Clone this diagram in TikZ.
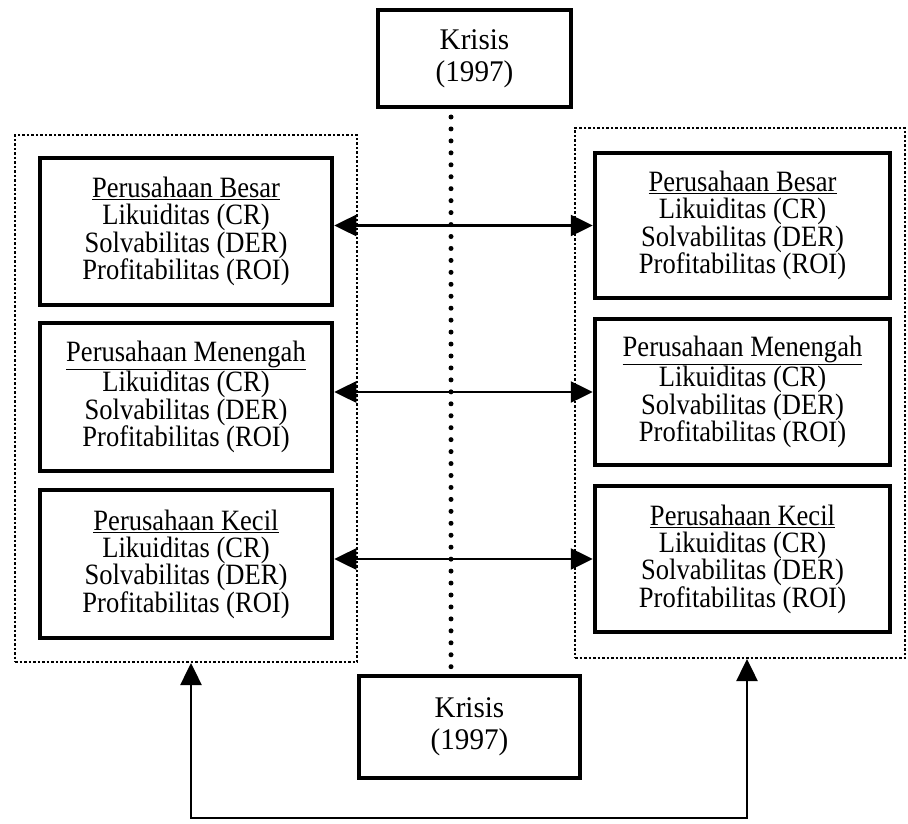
\documentclass[tikz,border=0pt]{standalone}
\usepackage{fontspec}
\setmainfont{Liberation Serif}
\newfontfamily\firmfont[FakeStretch=0.9]{Liberation Serif}
\newfontfamily\krisfont[FakeStretch=0.97]{Liberation Serif}
\usepackage{tikz}
\usetikzlibrary{arrows.meta,positioning,calc}
\tikzset{
  firm/.style={draw, line width=4.5pt, align=center, minimum width=292pt, minimum height=147pt,
    inner sep=0pt, font={\firmfont\fontsize{29.5}{27.3}\selectfont}},
  krisis/.style={draw, line width=4.5pt, align=center, inner sep=0pt,
    font={\krisfont\fontsize{30}{32}\selectfont}},
  grp/.style={draw, line width=2pt, dash pattern=on 2.5pt off 2pt, minimum width=342pt, minimum height=527pt, inner sep=0pt},
  biarr/.style={line width=2.5pt, {Triangle[length=22pt,width=21pt]}-{Triangle[length=22pt,width=21pt]}},
  dotline/.style={line width=5pt, line cap=round, dash pattern=on 0pt off 11.95pt},
}
\newcommand{\firmtext}[1]{\underline{#1}\\Likuiditas (CR)\\Solvabilitas (DER)\\Profitabilitas (ROI)}

\begin{document}
\begin{tikzpicture}[x=1pt, y=-1pt]
  \useasboundingbox (0,0) rectangle (908,824);

  % groups
  \node[grp] (lgrp) at (186,398.5) {};
  \node[grp, minimum width=330pt, minimum height=530pt] (rgrp) at (740,393) {};

  % crisis boxes and the dotted divider
  \node[krisis, minimum width=193pt, minimum height=97pt] (ktop) at (474.5,58.5) {Krisis\\(1997)};
  \node[krisis, minimum width=221pt, minimum height=102pt] (kbot) at (469.5,727) {Krisis\\(1997)};
  \coordinate (d1) at (451,117);
  \coordinate (d2) at (451,667);
  \draw[dotline] (d1) -- (d2);

  % left side
  \node[firm] (lb1) at (186,231.5) {\firmtext{Perusahaan Besar}};
  \node[firm, minimum height=148pt] (lb2) at (186,397) {\firmtext{Perusahaan Menengah}};
  \node[firm, minimum height=148pt] (lb3) at (186,564) {\firmtext{Perusahaan Kecil}};

  % right side
  \node[firm, minimum width=295pt, minimum height=145pt] (rb1) at (742.5,225.5) {\firmtext{Perusahaan Besar}};
  \node[firm, minimum width=295pt, minimum height=146pt] (rb2) at (742.5,392) {\firmtext{Perusahaan Menengah}};
  \node[firm, minimum width=295pt, minimum height=146pt] (rb3) at (742.5,559) {\firmtext{Perusahaan Kecil}};

  \draw[biarr] (rb1.west -| lb1.east) -- (rb1.west);
  \draw[biarr] (rb2.west -| lb2.east) -- (rb2.west);
  \draw[biarr] (rb3.west -| lb3.east) -- (rb3.west);

  % bottom link
  \coordinate (jl) at (191,818);
  \coordinate (jr) at (747,818);
  \draw[biarr] (jl |- lgrp.south) -- (jl) -- (jr) -- (jr |- rgrp.south);
\end{tikzpicture}
\end{document}
